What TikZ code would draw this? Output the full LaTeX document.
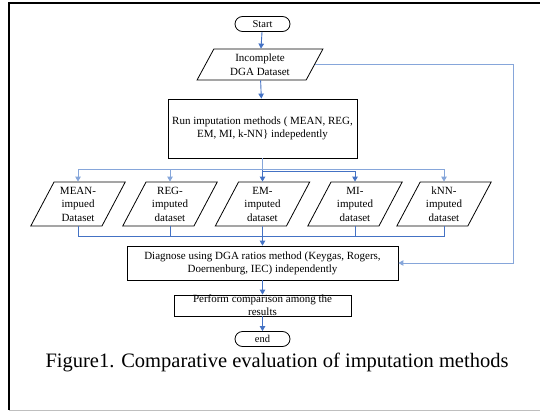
\documentclass[tikz,border=0pt]{standalone}
\usepackage{fontspec}
\setmainfont{Liberation Serif}
\usepackage{xcolor}
\usepackage{tikz}
\usetikzlibrary{
		calc,
		arrows.meta,
		shapes.geometric
	}
\definecolor{flowblue}{HTML}{4472C4}
\definecolor{paleblue}{HTML}{86A6DA}
\tikzset{
		>={Triangle[length=5pt,width=5.5pt]},
		term/.style={draw,rectangle,rounded corners=7.5pt,minimum width=55pt,minimum height=15pt,inner sep=0pt,font=\fontsize{10.5}{12}\selectfont},
		proc/.style={draw,rectangle,align=center,inner sep=0pt,font=\fontsize{11}{13}\selectfont},
		data/.style={draw,trapezium,trapezium left angle=63,trapezium right angle=117,trapezium stretches=true,align=center,inner sep=0pt,font=\fontsize{11}{13.5}\selectfont},
		flow/.style={flowblue,line width=0.9pt},
		far/.style={paleblue,line width=0.9pt}
	}

\begin{document}
\begin{tikzpicture}[x=1pt,y=-1pt,line width=0.8pt]
          \useasboundingbox (0,0) rectangle (540,412);

          % page frame
          \draw[line width=2.2pt] (9,410) -- (9,3) -- (540,3);
          \draw[gray!50] (9,410) -- (540,410);

          \node[term] (start) at (262.5,24) {Start};
          \node[data,minimum width=126pt,minimum height=31pt] (inc) at (260,64.5) {Incomplete\\DGA Dataset};
          \node[proc,minimum width=189pt,minimum height=59pt] (run) at (262.5,128.5) {Run imputation methods ( MEAN, REG,\\EM, MI, k-NN\} indepedently};

          \node[data,minimum width=95pt,minimum height=44pt] (mean) at (78,204) {MEAN-\\impued\\Dataset};
          \node[data,minimum width=95pt,minimum height=44pt] (reg) at (170,204) {REG-\\imputed\\dataset};
          \node[data,minimum width=95pt,minimum height=44pt] (em) at (262.5,204) {EM-\\imputed\\dataset};
          \node[data,minimum width=95pt,minimum height=44pt] (mi) at (355,204) {MI-\\imputed\\dataset};
          \node[data,minimum width=95pt,minimum height=44pt] (knn) at (444,204) {kNN-\\imputed\\dataset};

          \node[proc,minimum width=271pt,minimum height=34pt] (diag) at (262.5,263) {Diagnose using DGA ratios method (Keygas, Rogers,\\Doernenburg, IEC) independently};
          \node[proc,minimum width=177pt,minimum height=21pt,inner ysep=-2pt] (perf) at (262.5,305.5) {Perform comparison among the\\results};
          \node[term] (end) at (262.5,339) {end};

          \node[font=\fontsize{20.5}{24}\selectfont] (cap) at (277,362) {Figure1. Comparative evaluation of imputation methods};

          \coordinate (splitA) at (262.5,169);
          \coordinate (splitB) at (262.5,171.5);
          \coordinate (join) at (262.5,236);
          \coordinate (rim) at (513,263);

          \draw[flow,->] (start) -- (inc);
          \draw[flow,->] (inc) -- (run);

          % fan out to the five imputed sets
          \draw[far,->] (run.south) -- (splitA) -| (mean.north);
          \draw[far,->] (run.south) -- (splitA) -| (reg.north);
          \draw[flow,->] (run.south) -- (em.north);
          \draw[flow,->] (run.south) -- (splitB) -| (mi.north);
          \draw[far,->] (run.south) -- (splitA) -| (knn.north);

          % gather them again
          \draw[flow] (mean.south) |- (join);
          \draw[flow] (reg.south) |- (join);
          \draw[flow] (em.south) -- (join);
          \draw[flow] (mi.south) |- (join);
          \draw[flow] (knn.south) |- (join);
          \draw[flow,->] (join) -- (diag);

          \draw[far,->] (inc.east) -| (rim) -- (diag.east);% incomplete data straight to diagnosis

          \draw[flow,->] (diag) -- (perf);
          \draw[flow,->] (perf) -- (end);

\end{tikzpicture}
\end{document}
